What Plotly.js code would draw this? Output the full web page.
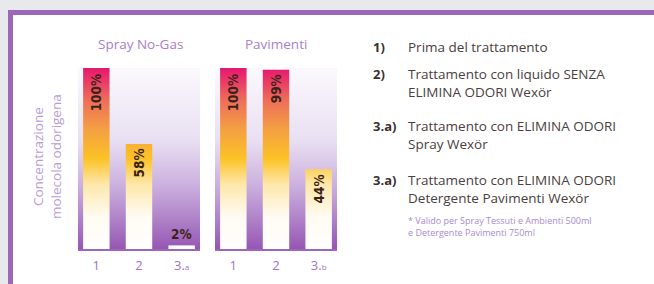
<!DOCTYPE html>
<html>
<head>
<meta charset="utf-8">
<script src="https://cdn.plot.ly/plotly-3.0.1.min.js"></script>
<style>html,body{margin:0;padding:0;background:#e7e9ed;}#chart{width:654px;height:284px;}</style>
</head>
<body>
<div id="chart"></div>
<script>
// ---- data ----
const panelTitles = ["Spray No-Gas", "Pavimenti"];
const categories1 = ["1", "2", "3.a"];
const categories2 = ["1", "2", "3.b"];
const tickLabels1 = ["1", "2", "3.<span style='font-size:8px'>a</span>"];
const tickLabels2 = ["1", "2", "3.<span style='font-size:8px'>b</span>"];
const valuesSpray = [100, 58, 2];
const valuesPavimenti = [100, 99, 44];
const yTitle = "Concentrazione<br>molecola odorigena";
const legendKeys = ["1)", "2)", "3.a)", "3.a)"];
const legendLines = [
  ["Prima del trattamento"],
  ["Trattamento con liquido SENZA", "ELIMINA ODORI Wexör"],
  ["Trattamento con ELIMINA ODORI", "Spray Wexör"],
  ["Trattamento con ELIMINA ODORI", "Detergente Pavimenti Wexör"]
];
const footnote = ["* Valido per Spray Tessuti e Ambienti 500ml", "e Detergente Pavimenti 750ml"];

// ---- styling ----
const W = 654, H = 284;
const px = v => v / W;
const py = v => 1 - v / H;
const purple = "#9d66bb";
const barScale = [[0, "#ffffff"], [0.18, "#fffbf2"], [0.36, "#fde7a8"], [0.5, "#fcc226"], [0.66, "#f4a042"], [0.82, "#ee6e5a"], [1, "#e6176f"]];
const panelScale = [[0, "#9656b3"], [0.15, "#ad7ec6"], [0.35, "#cbb0df"], [0.6, "#e9dff2"], [1, "#fbf9fd"]];
const halfW = 0.31;
const xr = [-0.43, 2.43];

const traces = [];
const annotations = [];
function addPanel(values, xa, ya) {
  traces.push({
    type: "scatter", mode: "lines", xaxis: xa, yaxis: ya,
    x: [xr[0], xr[1], xr[1], xr[0]], y: [0, 0, 100, 100],
    fill: "toself", line: {width: 0},
    fillgradient: {type: "vertical", start: 0, stop: 100, colorscale: panelScale},
    hoverinfo: "skip", showlegend: false
  });
  values.forEach((v, i) => {
    traces.push({
      type: "scatter", mode: "lines", xaxis: xa, yaxis: ya,
      x: [i - halfW, i + halfW, i + halfW, i - halfW], y: [0, 0, v, v],
      fill: "toself", line: {width: 0},
      fillgradient: {type: "vertical", start: 0, stop: 100, colorscale: barScale},
      hoverinfo: "skip", showlegend: false
    });
    const big = v > 20;
    annotations.push({
      xref: xa, yref: ya, x: i, y: v, text: v + "%",
      showarrow: false, textangle: big ? -90 : 0,
      yanchor: big ? "top" : "bottom", xanchor: "center",
      yshift: big ? -3 : 1,
      font: {family: "DejaVu Sans Condensed, DejaVu Sans", size: 13.5, color: "#3a2316", weight: "bold"}
    });
  });
}
addPanel(valuesSpray, "x", "y");
addPanel(valuesPavimenti, "x2", "y2");

const mid = {showarrow: false, xref: "paper", yref: "paper", yanchor: "middle"};
// panel titles
annotations.push(Object.assign({}, mid, {x: px(140), y: py(44), xanchor: "center", text: panelTitles[0], font: {family: "Open Sans", size: 13.5, color: "#a880cc"}}));
annotations.push(Object.assign({}, mid, {x: px(276), y: py(44), xanchor: "center", text: panelTitles[1], font: {family: "Open Sans", size: 13.5, color: "#a880cc"}}));
// y title
annotations.push(Object.assign({}, mid, {x: px(47), y: py(157), xanchor: "center", text: yTitle, textangle: -90, font: {family: "Open Sans", size: 13.5, color: "#b89cd8"}}));

// legend block
const keyY = [47, 74, 126, 180];
const legendSize = 13.5;
const lh = legendSize * 1.3;
legendKeys.forEach((k, i) => {
  annotations.push(Object.assign({}, mid, {x: px(371), y: py(keyY[i]), xanchor: "left", text: "<b>" + k + "</b>", font: {family: "Open Sans", size: 13, color: "#3a3131"}}));
  const n = legendLines[i].length;
  annotations.push(Object.assign({}, mid, {
    x: px(406), y: py(keyY[i] + (n - 1) * lh / 2), xanchor: "left", align: "left",
    text: legendLines[i].join("<br>"), font: {family: "Open Sans", size: legendSize, color: "#4a4040"}
  }));
});
annotations.push(Object.assign({}, mid, {
  x: px(406), y: py(226.5), xanchor: "left", align: "left",
  text: footnote.join("<br>"), font: {family: "Open Sans", size: 9, color: "#a88ad0"}
}));

const xaxisBase = {
  range: xr, tickvals: [0, 1, 2], showgrid: false, zeroline: false,
  showline: true, linecolor: purple, linewidth: 2, ticks: "",
  tickfont: {family: "Open Sans", size: 13, color: "#a272c9"}, ticklabelstandoff: 3, fixedrange: true
};
const layout = {
  width: W, height: H,
  margin: {l: 0, r: 0, t: 0, b: 0},
  paper_bgcolor: "#e7e9ed", plot_bgcolor: "rgba(0,0,0,0)",
  showlegend: false,
  xaxis: Object.assign({}, xaxisBase, {domain: [px(78), px(200)], ticktext: tickLabels1, anchor: "y"}),
  xaxis2: Object.assign({}, xaxisBase, {domain: [px(215), px(337)], ticktext: tickLabels2, anchor: "y2"}),
  yaxis: {domain: [1 - 249 / H, 1 - 68 / H], range: [0, 100], visible: false, fixedrange: true},
  yaxis2: {domain: [1 - 249 / H, 1 - 68 / H], range: [0, 100], visible: false, anchor: "x2", fixedrange: true},
  shapes: [
    {type: "rect", xref: "paper", yref: "paper", x0: px(10.5), x1: px(W + 20), y0: py(12.5), y1: py(H + 20),
     line: {color: purple, width: 5}, fillcolor: "#ffffff", layer: "below"}
  ],
  annotations: annotations
};
Plotly.newPlot("chart", traces, layout, {displayModeBar: false, staticPlot: true});
</script>
</body>
</html>
